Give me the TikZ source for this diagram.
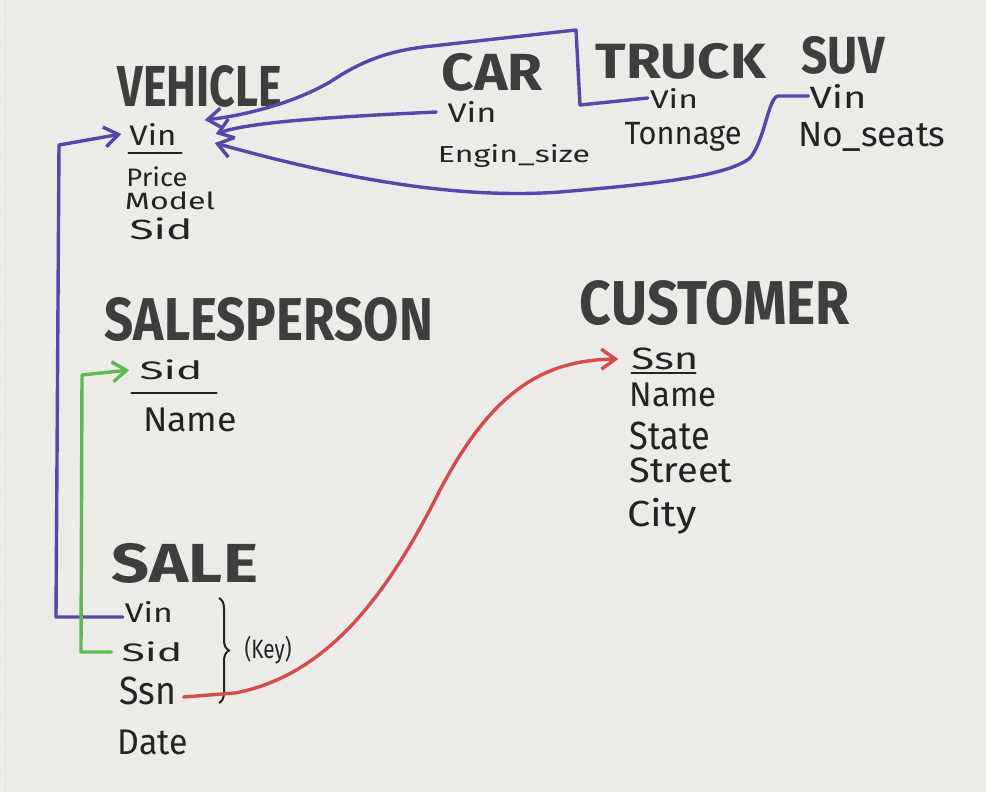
\documentclass[tikz,border=0pt]{standalone}
\usepackage{fontspec}
\setmainfont{Fira Sans}
\usetikzlibrary{arrows.meta,decorations.pathreplacing,calc}
\definecolor{paper}{RGB}{236,235,231}
\definecolor{ink}{RGB}{62,62,62}
\definecolor{pen}{RGB}{35,35,35}
\definecolor{purp}{RGB}{88,70,170}
\definecolor{grn}{RGB}{95,185,80}
\definecolor{rd}{RGB}{215,75,75}
\newcommand{\fitto}[3]{\resizebox*{#1pt}{#2pt}{#3}}
\begin{document}
\begin{tikzpicture}[x=1pt,y=-1pt,
  title/.style={inner sep=0pt,text=ink,font=\bfseries},
  attr/.style={inner sep=0pt,text=pen},
  uline/.style={line width=1.8pt,pen,line cap=round},
  link/.style={line width=3.4pt,line cap=round,line join=round,
    -{Straight Barb[length=14pt,width=20pt]}},
  bracestyle/.style={line width=2pt,pen,decorate,
    decoration={brace,amplitude=10pt}}]
\fill[paper] (0,0) rectangle (986,792);
\useasboundingbox (0,0) rectangle (986,792);
\draw[gray!35,line width=0.8pt,dotted] (5,0) -- (5,792);

% VEHICLE
\node[title] (veh) at (200,86) {\fitto{164}{42}{VEHICLE}};
\node[attr] (vvin) at (153,134) {\fitto{47}{22}{Vin}};
\node[attr] (vprice) at (157,177) {\fitto{61}{20}{Price}};
\node[attr] (vmodel) at (170,201) {\fitto{90}{18}{Model}};
\node[attr] (vsid) at (161,229) {\fitto{63}{22}{Sid}};
\draw[uline] ([shift={(-1,8)}]vvin.south west) -- ([shift={(5,8)}]vvin.south east);

% CAR
\node[title] (car) at (492,72) {\fitto{101}{38}{CAR}};
\node[attr] (cvin) at (472,112) {\fitto{49}{21}{Vin}};
\node[attr] (cengine) at (514,156) {\fitto{152}{23}{Engin\_size}};

% TRUCK
\node[title] (truck) at (681,61) {\fitto{170}{36}{TRUCK}};
\node[attr] (tvin) at (674,98) {\fitto{48}{20}{Vin}};
\node[attr] (tton) at (683,137) {\fitto{117}{29}{Tonnage}};

% SUV
\node[title] (suv) at (843,55) {\fitto{83}{38}{SUV}};
\node[attr] (uvin) at (838,96) {\fitto{57}{24}{Vin}};
\node[attr] (useats) at (872,137) {\fitto{147}{29}{No\_seats}};

% SALESPERSON
\node[title] (sp) at (269,320) {\fitto{328}{44}{SALESPERSON}};
\node[attr] (spsid) at (171,370) {\fitto{63}{20}{Sid}};
\node[attr] (spname) at (190,420) {\fitto{94}{24}{Name}};
\draw[uline] ([shift={(-8,13)}]spsid.south west) -- ([shift={(14,13)}]spsid.south east);

% CUSTOMER
\node[title] (cust) at (715,303) {\fitto{270}{45}{CUSTOMER}};
\node[attr] (cssn) at (665,359) {\fitto{67}{22}{Ssn}};
\node[attr] (cname) at (673,395) {\fitto{87}{24}{Name}};
\node[attr] (cstate) at (670,436) {\fitto{80}{28}{State}};
\node[attr] (cstreet) at (681,470) {\fitto{103}{25}{Street}};
\node[attr] (ccity) at (662,516) {\fitto{70}{36}{City}};
\draw[uline] ([shift={(0,3)}]cssn.south west) -- ([shift={(-3,3)}]cssn.south east);

% SALE
\node[title] (sale) at (185,563) {\fitto{146}{40}{SALE}};
\node[attr] (svin) at (149,612) {\fitto{48}{21}{Vin}};
\node[attr] (ssid) at (152,652) {\fitto{61}{20}{Sid}};
\node[attr] (sssn) at (148,691) {\fitto{57}{28}{Ssn}};
\node[attr] (sdate) at (153,742) {\fitto{70}{25}{Date}};
\coordinate (btop) at (219,598);
\coordinate (bbot) at (219,703);
\draw[bracestyle] (btop) -- (bbot);
\node[attr] (key) at (268,650) {\fitto{47}{28}{(Key)}};

% connectors
\draw[link,purp] ([shift={(-2,5)}]svin.west) -- (56,617) -- (59,145) -- ([xshift=-8pt]vvin.west);
\draw[link,grn] ([xshift=-10pt]ssid.west) -- (81,652) -- (82,375) -- ([xshift=-10pt]spsid.west);
\draw[link,rd] ([shift={(7,6)}]sssn.east) -- (235,693)
  .. controls (330,675) and (390,590) .. (440,490)
  .. controls (490,395) and (540,360) .. ([xshift=-13pt]cssn.west);
\draw[link,purp] ([xshift=-11pt]cvin.west) .. controls (330,117) and (250,122) .. ([xshift=39pt]vvin.east);
\draw[link,purp] ([xshift=-2pt]tvin.west) -- (580,105) -- (576,30) -- (423,47)
  .. controls (385,52) and (360,62) .. (330,82)
  .. controls (290,105) and (240,116) .. ([shift={(28,-14)}]vvin.east);
\draw[link,purp] ([xshift=-1pt]uvin.west) -- (778,96)
  .. controls (768,98) and (765,140) .. (750,158)
  .. controls (725,178) and (640,185) .. (560,192)
  .. controls (450,200) and (330,175) .. ([shift={(38,9)}]vvin.east);
\end{tikzpicture}
\end{document}
